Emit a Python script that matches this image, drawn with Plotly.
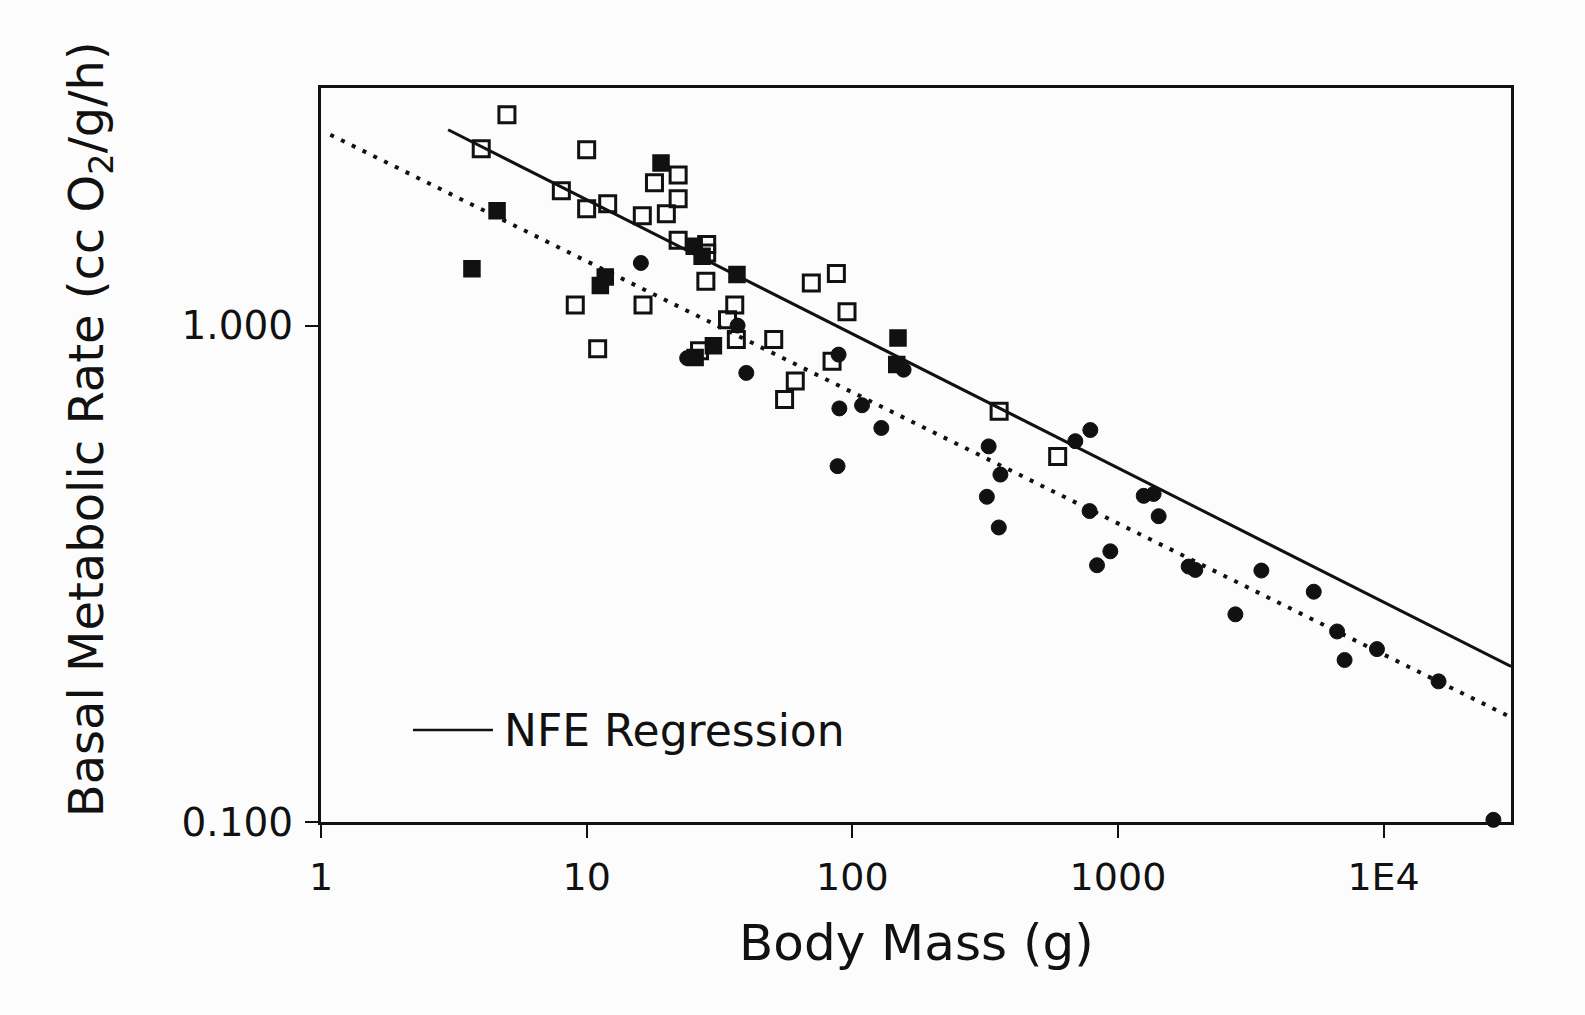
import plotly.graph_objects as go

# ---- data (body mass g, BMR cc O2/g/h) ----
open_sq_mass = [5.01, 4.01, 10.0, 8.03, 10.0, 12.0, 16.2, 18.0, 22.1, 22.1, 19.95, 22.1,
                28.3, 28.3, 28.1, 9.06, 16.3, 11.0, 26.6, 70.1, 87.1, 95.5, 36.1, 33.9,
                36.6, 50.6, 83.9, 61.0, 55.6, 357, 593]
open_sq_bmr = [2.66, 2.27, 2.26, 1.87, 1.72, 1.76, 1.665, 1.94, 2.01, 1.80, 1.68, 1.485,
               1.456, 1.40, 1.228, 1.10, 1.10, 0.898, 0.89, 1.219, 1.273, 1.066, 1.10, 1.028,
               0.937, 0.937, 0.848, 0.773, 0.71, 0.672, 0.545]

filled_sq_mass = [19.05, 4.60, 3.70, 11.75, 11.26, 25.4, 27.2, 36.8, 30.0, 25.6, 148.6, 147]
filled_sq_bmr = [2.126, 1.704, 1.302, 1.253, 1.204, 1.445, 1.38, 1.267, 0.911, 0.862, 0.944, 0.835]

circle_mass = [16.0, 23.9, 37.0, 88.8, 156, 39.9, 89.4, 108.8, 128.6, 88.0, 326, 361, 321,
               356, 691, 787, 782, 936, 834, 1250, 1362, 1423, 1845, 1955, 3466, 5458, 2767,
               6680, 9440, 7130, 16100, 25900]
circle_bmr = [1.337, 0.86, 1.00, 0.874, 0.815, 0.803, 0.681, 0.691, 0.622, 0.521, 0.571, 0.501,
              0.452, 0.392, 0.585, 0.616, 0.423, 0.351, 0.329, 0.454, 0.458, 0.413, 0.327,
              0.322, 0.321, 0.291, 0.262, 0.242, 0.223, 0.212, 0.192, 0.101]

# regression lines (end points)
nfe_mass = [3.01, 30170]
nfe_bmr = [2.48, 0.2058]
other_mass = [1.084, 30170]
other_bmr = [2.424, 0.1625]

x_tickvals = [1, 10, 100, 1000, 10000]
x_ticktext = ["1", "10", "100", "1000", "1E4"]
y_tickvals = [0.1, 1.0]
y_ticktext = ["0.100", "1.000"]

INK = "#111111"
FONT = "DejaVu Sans"

fig = go.Figure()

fig.add_trace(go.Scatter(x=nfe_mass, y=nfe_bmr, mode="lines",
                         line=dict(color=INK, width=3), showlegend=False))
fig.add_trace(go.Scatter(x=other_mass, y=other_bmr, mode="lines",
                         line=dict(color=INK, width=4, dash="4px,8px"), showlegend=False))

fig.add_trace(go.Scatter(x=open_sq_mass, y=open_sq_bmr, mode="markers",
                         marker=dict(symbol="square-open", size=16, color=INK,
                                     line=dict(color=INK, width=3)),
                         showlegend=False, cliponaxis=False))
fig.add_trace(go.Scatter(x=filled_sq_mass, y=filled_sq_bmr, mode="markers",
                         marker=dict(symbol="square", size=16, color=INK,
                                     line=dict(color=INK, width=1.5)),
                         showlegend=False, cliponaxis=False))
fig.add_trace(go.Scatter(x=circle_mass, y=circle_bmr, mode="markers",
                         marker=dict(symbol="circle", size=15, color=INK,
                                     line=dict(color=INK, width=1)),
                         showlegend=False, cliponaxis=False))

xr = [0, 4.4795]
yr = [-1, 0.4786]

fig.update_layout(
    width=1585, height=1015,
    margin=dict(l=321, r=74, t=88, b=193, pad=0),
    paper_bgcolor="#fcfcfc", plot_bgcolor="#fcfcfc",
    font=dict(family=FONT, color=INK),
    showlegend=False,
    xaxis=dict(type="log", range=xr, showgrid=False, zeroline=False,
               showline=True, linecolor=INK, linewidth=3, mirror=True,
               ticks="outside", ticklen=13, tickwidth=2, tickcolor=INK,
               tickvals=x_tickvals, ticktext=x_ticktext,
               tickfont=dict(size=38, family=FONT, color=INK),
               ticklabelstandoff=6),
    yaxis=dict(type="log", range=yr, showgrid=False, zeroline=False,
               showline=True, linecolor=INK, linewidth=3, mirror=True,
               ticks="outside", ticklen=13, tickwidth=2, tickcolor=INK,
               tickvals=y_tickvals, ticktext=y_ticktext,
               tickfont=dict(size=39, family=FONT, color=INK),
               ticklabelstandoff=4),
    xaxis2=dict(type="log", range=xr, overlaying="x", anchor="y", side="bottom",
                showgrid=False, zeroline=False, showline=False,
                ticks="inside", ticklen=13, tickwidth=2, tickcolor=INK,
                tickvals=x_tickvals, showticklabels=False),
    yaxis2=dict(type="log", range=yr, overlaying="y", anchor="x", side="left",
                showgrid=False, zeroline=False, showline=False,
                ticks="inside", ticklen=13, tickwidth=2, tickcolor=INK,
                tickvals=y_tickvals, showticklabels=False),
)

# axis titles
fig.add_annotation(text="Body Mass (g)", xref="paper", yref="paper",
                   x=0.5, y=-0.165, showarrow=False, xanchor="center", yanchor="middle",
                   font=dict(size=50, family=FONT, color=INK))
fig.add_annotation(text="Basal Metabolic Rate (cc O<sub>2</sub>/g/h)", xref="paper", yref="paper",
                   x=-0.195, y=0.535, showarrow=False, textangle=-90,
                   xanchor="center", yanchor="middle",
                   font=dict(size=48, family=FONT, color=INK))

# legend key
fig.add_shape(type="line", xref="paper", yref="paper",
              x0=0.0773, x1=0.1445, y0=0.1253, y1=0.1253,
              line=dict(color=INK, width=2.5))
fig.add_annotation(text="NFE Regression", xref="paper", yref="paper",
                   x=0.152, y=0.1253, showarrow=False, xanchor="left", yanchor="middle",
                   font=dict(size=44, family=FONT, color=INK))

fig.write_html("out.html")
